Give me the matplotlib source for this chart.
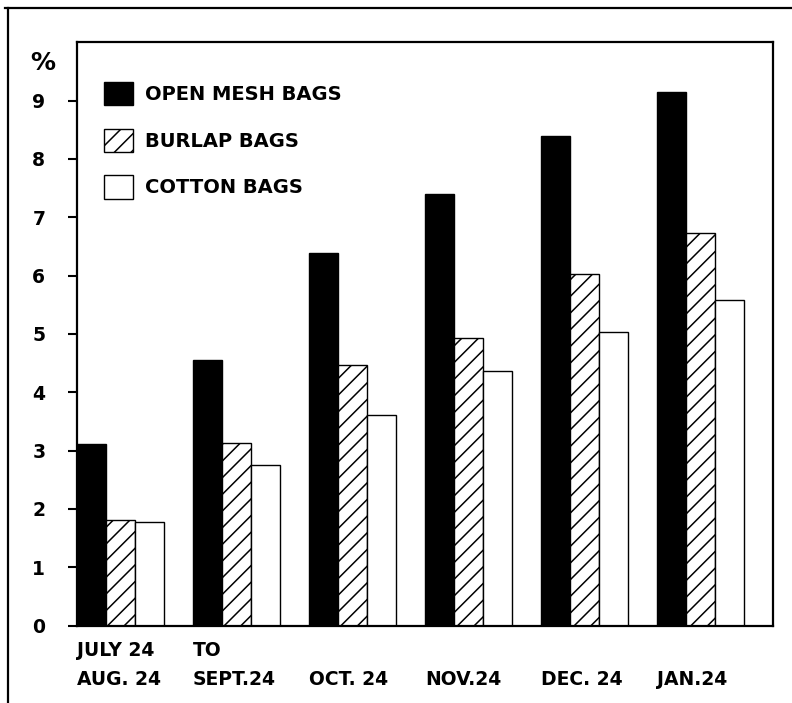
import numpy as np
import matplotlib
matplotlib.use("Agg")
import matplotlib.pyplot as plt
from matplotlib.lines import Line2D
from matplotlib.transforms import blended_transform_factory

# values (%)
periods_top = ["JULY 24", "TO"]
periods = ["AUG. 24", "SEPT.24", "OCT. 24", "NOV.24", "DEC. 24", "JAN.24"]
open_mesh = [3.12, 4.56, 6.39, 7.39, 8.39, 9.14]
burlap = [1.81, 3.13, 4.47, 4.93, 6.03, 6.73]
cotton = [1.77, 2.75, 3.61, 4.36, 5.04, 5.58]
y_ticks = [0, 1, 2, 3, 4, 5, 6, 7, 8, 9]

plt.rcParams['font.family'] = ['DejaVu Sans']
plt.rcParams['font.weight'] = 'bold'
plt.rcParams['hatch.linewidth'] = 1.1

fig = plt.figure(figsize=(7.92, 7.03), dpi=100)
ax = fig.add_axes([0.0972, 0.110, 0.879, 0.830])

# each group takes 4 bar widths: 3 bars and a gap
starts = np.arange(len(periods)) * 4
ax.bar(starts, open_mesh, width=1, align='edge', color='black',
       edgecolor='black', linewidth=1, label='OPEN MESH BAGS')
ax.bar(starts + 1, burlap, width=1, align='edge', color='white',
       edgecolor='black', linewidth=1, hatch='//', label='BURLAP BAGS')
ax.bar(starts + 2, cotton, width=1, align='edge', color='white',
       edgecolor='black', linewidth=1, label='COTTON BAGS')

ax.set_xlim(0, 24)
ax.set_ylim(0, 10)

for s in ax.spines.values():
    s.set_linewidth(1.6)

ax.set_yticks(y_ticks)
ax.set_yticklabels([str(v) for v in y_ticks], ha='center')
ax.tick_params(axis='y', direction='out', length=6.5, width=1.5,
               pad=21, labelsize=13.5)

ax.set_xticks(starts)
ax.set_xticklabels(periods, ha='left')
ax.tick_params(axis='x', length=0, pad=32, labelsize=13.5)

# first line of the two-line first labels
trans = blended_transform_factory(ax.transData, ax.transAxes)
for x, txt in zip([starts[0], starts[1]], periods_top):
    ax.text(x, -0.042, txt, transform=trans, ha='left', va='center',
            fontsize=13.5, fontweight='bold')

ax.text(-0.049, 0.964, "%", transform=ax.transAxes, ha='center',
        va='center', fontsize=18, fontweight='bold')

ax.legend(loc='upper left', bbox_to_anchor=(0.039, 0.932), frameon=False,
          fontsize=14, handlelength=1.5, handleheight=1.45,
          labelspacing=1.22, handletextpad=0.6, borderpad=0,
          borderaxespad=0)

# outer frame of the figure page
fig.add_artist(Line2D([5 / 792, 1.0], [0.9886, 0.9886], color='black',
                      linewidth=1.6, transform=fig.transFigure))
fig.add_artist(Line2D([0.0101, 0.0101], [0.0, 0.9886], color='black',
                      linewidth=1.6, transform=fig.transFigure))

fig.savefig("out.png", dpi=100)
